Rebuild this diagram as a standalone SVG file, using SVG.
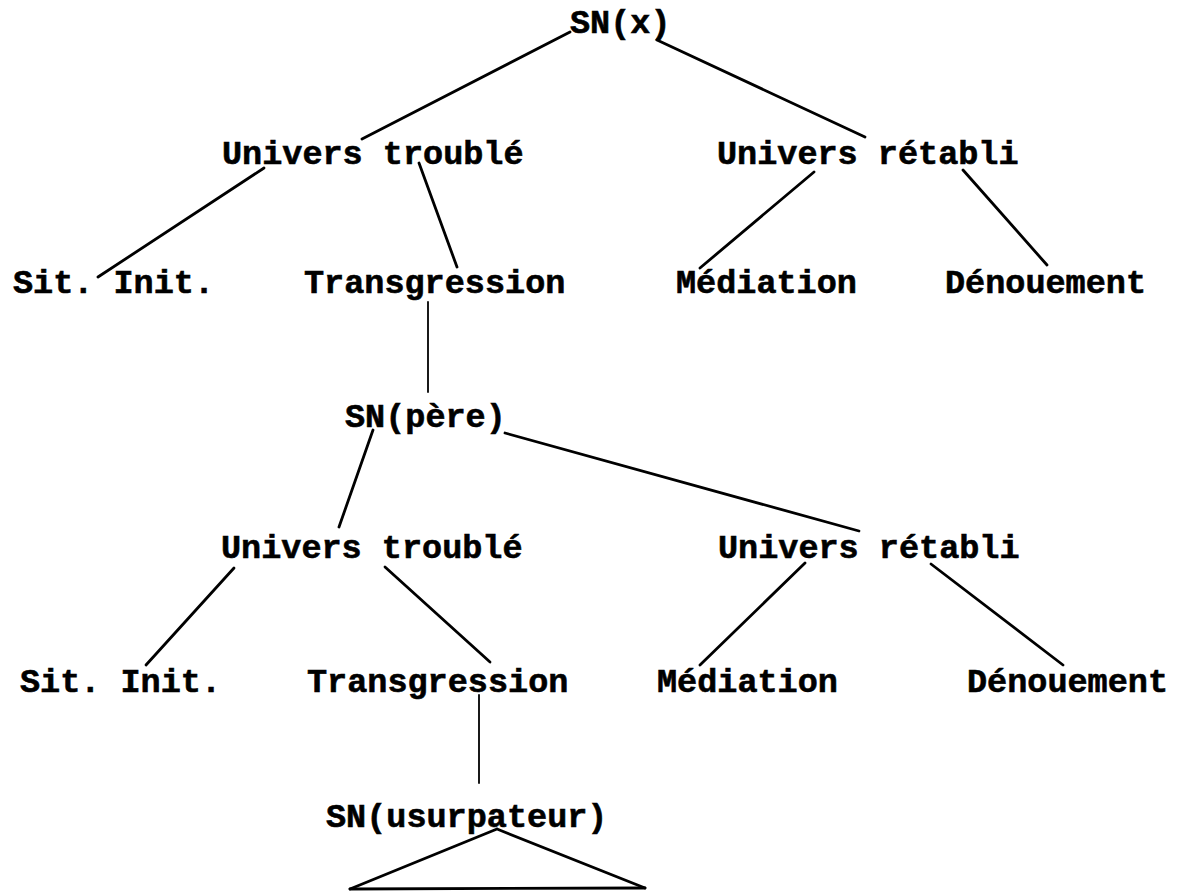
<svg xmlns="http://www.w3.org/2000/svg" width="1177" height="893" viewBox="0 0 1177 893">
  <style>
    .lbl { font-family: "Liberation Mono", "DejaVu Sans Mono", monospace; font-weight: bold; font-size: 33.5px; fill: #000; stroke: #000; stroke-width: 0.6px; }
    .edge { stroke: #000; stroke-width: 2.8; stroke-linecap: round; fill: none; }
    .thin { stroke-width: 1.8; }
  </style>
  <rect width="1177" height="893" fill="#fff"/>

  <!-- tree branches -->
  <g id="connectors">
    <line class="edge" x1="570" y1="32" x2="362" y2="139"/>
    <line class="edge" x1="657" y1="40" x2="865" y2="137"/>
    <line class="edge" x1="264" y1="168" x2="98" y2="277"/>
    <line class="edge" x1="419" y1="163" x2="457" y2="267"/>
    <line class="edge" x1="814" y1="172" x2="700" y2="268"/>
    <line class="edge" x1="963" y1="170" x2="1047" y2="265"/>
    <line class="edge thin" x1="428" y1="302" x2="428" y2="392"/>
    <line class="edge" x1="373" y1="430" x2="339" y2="527"/>
    <line class="edge" x1="505" y1="433" x2="859" y2="531"/>
    <line class="edge" x1="234" y1="568" x2="146" y2="665"/>
    <line class="edge" x1="385" y1="567" x2="490" y2="662"/>
    <line class="edge" x1="805" y1="563" x2="700" y2="665"/>
    <line class="edge" x1="931" y1="564" x2="1063" y2="665"/>
    <line class="edge thin" x1="479" y1="695" x2="479" y2="783"/>
  </g>

  <!-- level 0 -->
  <g id="sn-x"><text class="lbl" x="570" y="33">SN(x)</text></g>

  <!-- level 1 -->
  <g id="univers-trouble-1"><text class="lbl" x="222" y="164">Univers troublé</text></g>
  <g id="univers-retabli-1"><text class="lbl" x="717" y="164">Univers rétabli</text></g>

  <!-- level 2 -->
  <g id="sit-init-1"><text class="lbl" x="13" y="293">Sit. Init.</text></g>
  <g id="transgression-1"><text class="lbl" x="304" y="293">Transgression</text></g>
  <g id="mediation-1"><text class="lbl" x="676" y="293">Médiation</text></g>
  <g id="denouement-1"><text class="lbl" x="945" y="293">Dénouement</text></g>

  <!-- embedded sequence -->
  <g id="sn-pere"><text class="lbl" x="345" y="427">SN(père)</text></g>

  <g id="univers-trouble-2"><text class="lbl" x="221" y="558">Univers troublé</text></g>
  <g id="univers-retabli-2"><text class="lbl" x="718" y="558">Univers rétabli</text></g>

  <g id="sit-init-2"><text class="lbl" x="20" y="692">Sit. Init.</text></g>
  <g id="transgression-2"><text class="lbl" x="307" y="692">Transgression</text></g>
  <g id="mediation-2"><text class="lbl" x="657" y="692">Médiation</text></g>
  <g id="denouement-2"><text class="lbl" x="967" y="692">Dénouement</text></g>

  <!-- collapsed subtree -->
  <g id="sn-usurpateur">
    <text class="lbl" x="326" y="827">SN(usurpateur)</text>
    <path class="edge" d="M497 829 L350 889 M497 829 L645 888"/>
    <line class="edge" x1="350" y1="889" x2="645" y2="888" stroke-width="3.6"/>
  </g>
</svg>
